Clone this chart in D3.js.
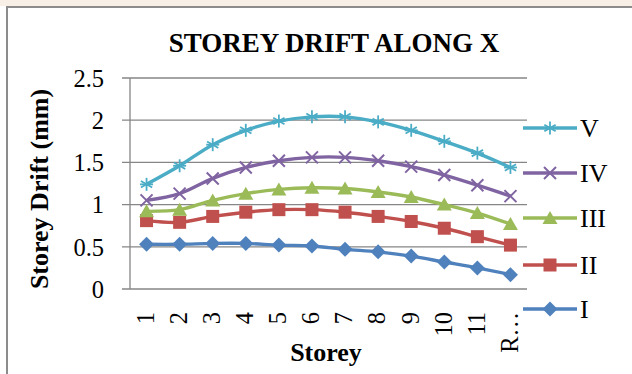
<!DOCTYPE html>
<html><head><meta charset="utf-8">
<script src="https://cdn.jsdelivr.net/npm/d3@7"></script>
<style>body{margin:0;background:#fff}svg{display:block}</style>
</head><body>
<script>
const storeys = ["1","2","3","4","5","6","7","8","9","10","11","R…"];
const seriesNames = ["V","IV","III","II","I"];
const valuesV   = [1.24,1.46,1.71,1.88,1.99,2.04,2.04,1.98,1.88,1.75,1.61,1.44];
const valuesIV  = [1.05,1.13,1.31,1.44,1.52,1.56,1.56,1.52,1.45,1.35,1.23,1.10];
const valuesIII = [0.92,0.94,1.05,1.13,1.18,1.20,1.19,1.15,1.09,1.00,0.90,0.77];
const valuesII  = [0.81,0.79,0.86,0.91,0.94,0.94,0.91,0.86,0.80,0.72,0.62,0.52];
const valuesI   = [0.53,0.53,0.54,0.54,0.52,0.51,0.47,0.44,0.39,0.32,0.25,0.17];
const yTicks = [0,0.5,1,1.5,2,2.5];

const series = [
  {name:"V", values:valuesV, color:"#4bacc6", marker:"star"},
  {name:"IV", values:valuesIV, color:"#8064a2", marker:"x"},
  {name:"III", values:valuesIII, color:"#9bbb59", marker:"tri"},
  {name:"II", values:valuesII, color:"#c0504d", marker:"sq"},
  {name:"I", values:valuesI, color:"#4f81bd", marker:"dia"}
];

const W=632,H=374;
const svg=d3.select("body").append("svg").attr("width",W).attr("height",H);
svg.append("rect").attr("width",W).attr("height",6).attr("fill","#f8efe6");
svg.append("rect").attr("x",0).attr("y",6).attr("width",W).attr("height",H-6).attr("fill","#fff");
svg.append("line").attr("x1",6).attr("x2",W).attr("y1",7).attr("y2",7).attr("stroke","#8c8c8c").attr("stroke-width",2);
svg.append("line").attr("x1",7).attr("x2",7).attr("y1",6).attr("y2",H).attr("stroke","#8c8c8c").attr("stroke-width",2);

const font="'Liberation Serif','Times New Roman',serif";
const x=d3.scaleBand().domain(storeys).range([130,527]);
const y=d3.scaleLinear().domain([0,2.5]).range([289,78]);

// gridlines
const g=svg.append("g");
g.selectAll("line.grid").data(yTicks).join("line")
  .attr("x1",122).attr("x2",527).attr("y1",d=>y(d)).attr("y2",d=>y(d))
  .attr("stroke","#868686").attr("stroke-width",1.3);
g.append("line").attr("x1",130).attr("x2",130).attr("y1",y(2.5)).attr("y2",y(0)).attr("stroke","#868686").attr("stroke-width",1.3);

// y tick labels
const yAxis=d3.axisLeft(y).tickValues(yTicks).tickSize(0).tickPadding(0).tickFormat(d3.format("~g"));
const ya=svg.append("g").attr("transform","translate(104,0)").call(yAxis);
ya.select(".domain").remove();
ya.selectAll("text").attr("font-family",font).attr("font-size",24.5).attr("fill","#000").attr("dy","0.34em");

// x tick labels rotated
const xAxis=d3.axisBottom(x).tickSize(0).tickPadding(0);
const xa=svg.append("g").attr("transform","translate(0,312)").call(xAxis);
xa.select(".domain").remove();
xa.selectAll("text").attr("font-family",font).attr("font-size",24.5).attr("fill","#000")
  .attr("transform","rotate(-90)").attr("text-anchor","end").attr("x",0).attr("y",0).attr("dy","0.3em").attr("dx",0);

// title
svg.append("text").attr("x",334).attr("y",52).attr("text-anchor","middle").attr("font-family",font)
  .attr("font-weight","bold").attr("font-size",27).text("STOREY DRIFT ALONG X");
svg.append("text").attr("transform","translate(48,189) rotate(-90)").attr("text-anchor","middle").attr("font-family",font)
  .attr("font-weight","bold").attr("font-size",26).text("Storey Drift (mm)");
svg.append("text").attr("x",326).attr("y",361).attr("text-anchor","middle").attr("font-family",font)
  .attr("font-weight","bold").attr("font-size",26).text("Storey");

function drawMarker(sel,type,color){
  if(type==="star"){
    const r=6.5;
    [0,60,120].forEach(a=>{
      const rad=a*Math.PI/180;
      sel.append("line").attr("x1",-r*Math.sin(rad)).attr("y1",-r*Math.cos(rad)).attr("x2",r*Math.sin(rad)).attr("y2",r*Math.cos(rad)).attr("stroke",color).attr("stroke-width",1.8);
    });
    sel.append("line").attr("x1",-r).attr("x2",r).attr("y1",0).attr("y2",0).attr("stroke",color).attr("stroke-width",1.8);
  } else if(type==="x"){
    const r=6;
    sel.append("path").attr("d",`M${-r},${-r}L${r},${r}M${-r},${r}L${r},${-r}`).attr("stroke",color).attr("stroke-width",2);
  } else if(type==="tri"){
    sel.append("path").attr("d","M0,-7L7.5,6L-7.5,6Z").attr("fill",color);
  } else if(type==="sq"){
    sel.append("rect").attr("x",-6.5).attr("y",-6.5).attr("width",13).attr("height",13).attr("fill",color);
  } else if(type==="dia"){
    sel.append("path").attr("d","M0,-7.5L7.5,0L0,7.5L-7.5,0Z").attr("fill",color);
  }
}

const line=d3.line().x((d,i)=>x(storeys[i])+x.bandwidth()/2).y(d=>y(d)).curve(d3.curveCatmullRom.alpha(0.5));
const order=[...series].reverse();
order.forEach(s=>{
  svg.append("path").attr("d",line(s.values)).attr("fill","none").attr("stroke",s.color).attr("stroke-width",3.4);
  s.values.forEach((v,i)=>{
    const m=svg.append("g").attr("transform",`translate(${x(storeys[i])+x.bandwidth()/2},${y(v)})`);
    drawMarker(m,s.marker,s.color);
  });
});

// legend
const legY=[128,173,218,265,309];
series.forEach((s,i)=>{
  const lg=svg.append("g").attr("transform",`translate(0,${legY[i]})`);
  lg.append("line").attr("x1",523).attr("x2",577).attr("y1",0).attr("y2",0).attr("stroke",s.color).attr("stroke-width",3.4);
  const m=lg.append("g").attr("transform","translate(550,0)");
  drawMarker(m,s.marker,s.color);
  lg.append("text").attr("x",580).attr("y",0).attr("dy","0.34em").attr("font-family",font).attr("font-size",26).text(s.name);
});
</script>
</body></html>
